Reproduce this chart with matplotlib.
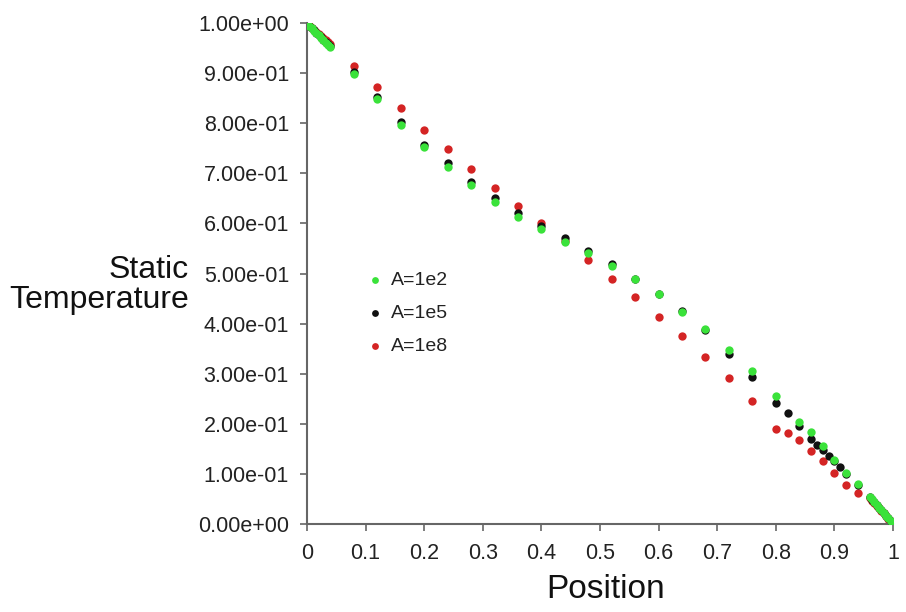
import matplotlib
matplotlib.use("Agg")
import matplotlib.pyplot as plt

plt.rcParams['font.family'] = ['Liberation Sans', 'DejaVu Sans']

# ---- data ----
dense_start_x = [0.0, 0.004, 0.008, 0.012, 0.016, 0.020, 0.024, 0.028, 0.032, 0.036, 0.040]
dense_end_x = [0.96, 0.964, 0.968, 0.972, 0.976, 0.980, 0.984, 0.988, 0.992, 0.996, 1.0]

green_start_y = [1.0, 0.995, 0.990, 0.985, 0.980, 0.976, 0.971, 0.966, 0.961, 0.957, 0.952]
black_start_y = [1.0, 0.995, 0.991, 0.986, 0.981, 0.977, 0.972, 0.967, 0.963, 0.958, 0.954]
red_start_y = [1.0, 0.996, 0.991, 0.987, 0.983, 0.979, 0.975, 0.970, 0.966, 0.962, 0.958]

green_end_y = [0.054, 0.049, 0.043, 0.038, 0.032, 0.027, 0.022, 0.016, 0.011, 0.005, 0.0]
black_end_y = [0.053, 0.048, 0.043, 0.037, 0.032, 0.027, 0.021, 0.016, 0.011, 0.005, 0.0]
red_end_y = [0.051, 0.046, 0.041, 0.036, 0.031, 0.026, 0.021, 0.015, 0.010, 0.005, 0.0]

green_x = [0.08, 0.12, 0.16, 0.20, 0.24, 0.28, 0.32, 0.36, 0.40, 0.44, 0.48, 0.52, 0.56,
           0.60, 0.64, 0.68, 0.72, 0.76, 0.80, 0.84, 0.86, 0.88, 0.90, 0.92, 0.94]
green_y = [0.898, 0.848, 0.797, 0.752, 0.712, 0.676, 0.642, 0.612, 0.588, 0.562, 0.540, 0.514, 0.490,
           0.460, 0.424, 0.390, 0.348, 0.306, 0.256, 0.204, 0.184, 0.156, 0.128, 0.102, 0.080]

black_x = [0.08, 0.12, 0.16, 0.20, 0.24, 0.28, 0.32, 0.36, 0.40, 0.44, 0.48, 0.52, 0.56,
           0.60, 0.64, 0.68, 0.72, 0.76, 0.80, 0.82, 0.84, 0.86, 0.87, 0.88, 0.89,
           0.90, 0.91, 0.92, 0.94]
black_y = [0.902, 0.852, 0.802, 0.757, 0.720, 0.682, 0.650, 0.620, 0.594, 0.570, 0.545, 0.519, 0.490,
           0.460, 0.426, 0.388, 0.340, 0.294, 0.242, 0.222, 0.196, 0.170, 0.158, 0.148, 0.136,
           0.125, 0.114, 0.100, 0.078]

red_x = [0.08, 0.12, 0.16, 0.20, 0.24, 0.28, 0.32, 0.36, 0.40, 0.44, 0.48, 0.52, 0.56,
         0.60, 0.64, 0.68, 0.72, 0.76, 0.80, 0.82, 0.84, 0.86, 0.88, 0.90, 0.92, 0.94]
red_y = [0.914, 0.872, 0.830, 0.786, 0.748, 0.708, 0.670, 0.634, 0.600, 0.565, 0.526, 0.490, 0.454,
         0.414, 0.376, 0.334, 0.292, 0.246, 0.190, 0.182, 0.168, 0.146, 0.126, 0.102, 0.078, 0.062]

labels = ["A=1e2", "A=1e5", "A=1e8"]
x_ticks = [0, 0.1, 0.2, 0.3, 0.4, 0.5, 0.6, 0.7, 0.8, 0.9, 1]
x_tick_labels = ["0", "0.1", "0.2", "0.3", "0.4", "0.5", "0.6", "0.7", "0.8", "0.9", "1"]
y_ticks = [0.0, 0.1, 0.2, 0.3, 0.4, 0.5, 0.6, 0.7, 0.8, 0.9, 1.0]

c_green = "#3ae23a"
c_black = "#111111"
c_red = "#d42424"

fig = plt.figure(figsize=(9.06, 6.12), dpi=100)
ax = fig.add_axes([307/906, 88/612, 586/906, 501/612])

ms = 36
series = [
    (c_red, red_start_y, red_x, red_y, red_end_y, 2),
    (c_black, black_start_y, black_x, black_y, black_end_y, 3),
    (c_green, green_start_y, green_x, green_y, green_end_y, 4),
]
for col, sy, xx, yy, ey, z in series:
    ax.scatter(dense_start_x, sy, s=ms, color=col, lw=0, zorder=z)
    ax.scatter(xx, yy, s=ms, color=col, lw=0, zorder=z)
    ax.scatter(dense_end_x, ey, s=ms, color=col, lw=0, zorder=z)

# legend handles
hg = ax.scatter([], [], s=24, color=c_green, lw=0, label=labels[0])
hb = ax.scatter([], [], s=24, color=c_black, lw=0, label=labels[1])
hr = ax.scatter([], [], s=24, color=c_red, lw=0, label=labels[2])
ax.legend(handles=[hg, hb, hr], loc="center left",
          bbox_to_anchor=(369/906, 1 - 313/612), bbox_transform=fig.transFigure,
          frameon=False, fontsize=14, handlelength=0.6, handletextpad=0.55,
          labelspacing=0.8, borderpad=0, borderaxespad=0, labelcolor="#222222")

ax.set_xlim(0, 1)
ax.set_ylim(0, 1)
ax.set_xticks(x_ticks)
ax.set_xticklabels(x_tick_labels)
ax.set_yticks(y_ticks)
ax.set_yticklabels([f"{v:.2e}" for v in y_ticks])
ax.tick_params(axis="both", labelsize=15.5, labelcolor="#222222", color="#666666",
               length=5, width=1.2)
ax.tick_params(axis="y", pad=8)
ax.tick_params(axis="x", pad=9)
for side in ["top", "right"]:
    ax.spines[side].set_visible(False)
for side in ["left", "bottom"]:
    ax.spines[side].set_color("#666666")
    ax.spines[side].set_linewidth(1.5)
ax.patch.set_alpha(0)

fig.text(606/906, 1 - 590/612, "Position", ha="center", va="center",
         fontsize=24, color="#111111")
fig.text(189/906, 1 - 285/612, "Static\nTemperature", ha="right", va="center",
         multialignment="right", fontsize=23, color="#111111", linespacing=1.0)

fig.savefig("out.png", dpi=100)
